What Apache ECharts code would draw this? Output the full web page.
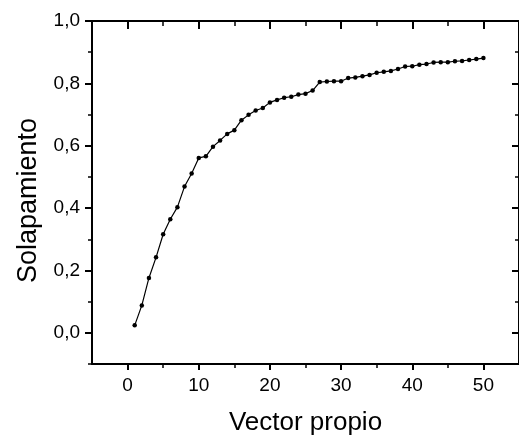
<!DOCTYPE html>
<html>
<head>
<meta charset="utf-8">
<script src="https://cdn.jsdelivr.net/npm/echarts@6/dist/echarts.min.js"></script>
<style>
html,body{margin:0;padding:0;background:#fff;}
#c{width:519px;height:441px;}
</style>
</head>
<body>
<div id="c"></div>
<script>
const vectorIndex = [1,2,3,4,5,6,7,8,9,10,11,12,13,14,15,16,17,18,19,20,21,22,23,24,25,26,27,28,29,30,31,32,33,34,35,36,37,38,39,40,41,42,43,44,45,46,47,48,49,50];
const solapamiento = [0.024,0.088,0.176,0.242,0.316,0.364,0.403,0.469,0.511,0.561,0.566,0.597,0.617,0.638,0.650,0.682,0.699,0.713,0.721,0.739,0.747,0.754,0.757,0.764,0.767,0.777,0.804,0.806,0.807,0.807,0.817,0.819,0.823,0.827,0.834,0.837,0.840,0.846,0.854,0.855,0.860,0.862,0.867,0.868,0.868,0.871,0.872,0.875,0.878,0.881];
const xMajorTicks = [0,10,20,30,40,50];
const xMinorTicks = [5,15,25,35,45];
const yMajorTicks = [0,0.2,0.4,0.6,0.8,1.0];
const yMinorTicks = [-0.1,0.1,0.3,0.5,0.7,0.9];
const xTitle = 'Vector propio';
const yTitle = 'Solapamiento';

const FONT = 'Liberation Sans, Arial, sans-serif';
const black = '#000';
const X_MIN = -5, X_MAX = 55, Y_MIN = -0.1, Y_MAX = 1.0;

function xAx(opts){
  return Object.assign({
    type:'value', min:X_MIN, max:X_MAX, gridIndex:0,
    splitLine:{show:false},
    axisLine:{show:false, onZero:false, lineStyle:{color:black,width:2}},
    axisLabel:{show:false},
    axisTick:{show:false}
  }, opts);
}
function yAx(opts){
  return Object.assign({
    type:'value', min:Y_MIN, max:Y_MAX, gridIndex:0,
    splitLine:{show:false},
    axisLine:{show:false, onZero:false, lineStyle:{color:black,width:2}},
    axisLabel:{show:false},
    axisTick:{show:false}
  }, opts);
}
const fmt = v => (Math.round(v*10)/10).toFixed(1).replace('.', ',');

const chart = echarts.init(document.getElementById('c'), null, {renderer:'canvas'});
chart.setOption({
  animation:false,
  backgroundColor:'#fff',
  grid:{left:92, top:21, width:429, height:350, containLabel:false},
  xAxis:[
    xAx({position:'bottom',
      axisLine:{show:true,onZero:false,lineStyle:{color:black,width:2}},
      axisTick:{show:true,inside:false,length:6,lineStyle:{color:black,width:2},customValues:xMajorTicks},
      axisLabel:{show:true,customValues:xMajorTicks,color:black,fontSize:19,fontFamily:FONT,margin:12},
      name:xTitle,nameLocation:'middle',nameGap:46,
      nameTextStyle:{color:black,fontSize:26,fontFamily:FONT}
    }),
    xAx({position:'bottom',
      axisTick:{show:true,inside:false,length:4,lineStyle:{color:black,width:1.5},customValues:xMinorTicks}
    }),
    xAx({position:'top',
      axisLine:{show:true,onZero:false,lineStyle:{color:black,width:2}},
      axisTick:{show:true,inside:true,length:8,lineStyle:{color:black,width:2},customValues:xMajorTicks}
    }),
    xAx({position:'top',
      axisTick:{show:true,inside:true,length:5,lineStyle:{color:black,width:1.5},customValues:xMinorTicks}
    })
  ],
  yAxis:[
    yAx({position:'left',
      axisLine:{show:true,onZero:false,lineStyle:{color:black,width:2}},
      axisTick:{show:true,inside:false,length:7,lineStyle:{color:black,width:2},customValues:yMajorTicks},
      axisLabel:{show:true,customValues:yMajorTicks,color:black,fontSize:19,fontFamily:FONT,margin:12,formatter:fmt},
      name:yTitle,nameLocation:'middle',nameGap:50,nameRotate:90,
      nameTextStyle:{color:black,fontSize:27,fontFamily:FONT,padding:[0,16,0,0]}
    }),
    yAx({position:'left',
      axisTick:{show:true,inside:false,length:4,lineStyle:{color:black,width:1.5},customValues:yMinorTicks}
    }),
    yAx({position:'right',
      axisLine:{show:true,onZero:false,lineStyle:{color:black,width:2}},
      axisTick:{show:true,inside:true,length:7,lineStyle:{color:black,width:2},customValues:yMajorTicks}
    }),
    yAx({position:'right',
      axisTick:{show:true,inside:true,length:4,lineStyle:{color:black,width:1.5},customValues:yMinorTicks}
    })
  ],
  series:[{
    type:'line',
    xAxisIndex:0, yAxisIndex:0,
    data: vectorIndex.map((x,i)=>[x, solapamiento[i]]),
    symbol:'circle', symbolSize:4.5,
    itemStyle:{color:black},
    lineStyle:{color:black,width:1.2},
    silent:true
  }]
});
</script>
</body>
</html>
